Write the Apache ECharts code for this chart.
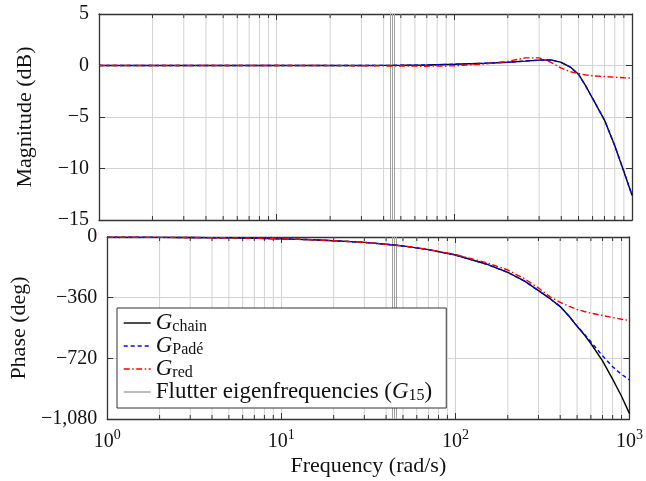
<!DOCTYPE html>
<html>
<head>
<meta charset="utf-8">
<script src="https://cdn.jsdelivr.net/npm/echarts@6/dist/echarts.min.js"></script>
<style>
  html, body { margin: 0; padding: 0; background: #fff; }
  #chart { width: 646px; height: 481px; }
</style>
</head>
<body>
<div id="chart"></div>
<script>
// Frequency samples (rad/s)
const freqs = [1, 2, 3, 5, 7, 10, 15, 20, 30, 40, 50, 70, 100, 150, 200, 250, 300, 350, 400, 450, 500, 550, 600, 700, 800, 900, 1000];

// Magnitude (dB)
const chainMag = [0, 0, 0, 0, 0, 0, 0, 0, 0, 0.01, 0.02, 0.05, 0.12, 0.22, 0.32, 0.42, 0.52, 0.55, 0.3, -0.15, -0.85, -2.0, -3.2, -5.3, -7.8, -10.3, -12.6];
const padeMag  = [0, 0, 0, 0, 0, 0, 0, 0, 0, 0.01, 0.02, 0.05, 0.12, 0.22, 0.32, 0.42, 0.52, 0.54, 0.28, -0.17, -0.87, -2.02, -3.2, -5.3, -7.8, -10.3, -12.6];
const redMag   = [0, 0, 0, 0, 0, 0, 0, -0.01, -0.02, -0.04, -0.05, -0.07, -0.03, 0.15, 0.4, 0.74, 0.74, 0.3, -0.25, -0.6, -0.8, -0.92, -1.0, -1.08, -1.14, -1.19, -1.23];

// Phase (deg)
const chainPhase = [-1, -2, -3, -5, -7, -11, -16, -22, -32, -43, -53, -75, -107, -160, -210, -262, -318, -366, -413, -470, -530, -580, -632, -735, -843, -945, -1048];
const padePhase  = [-1, -2, -3, -5, -7, -11, -16, -22, -32, -43, -53, -75, -107, -160, -210, -262, -318, -366, -413, -470, -528, -576, -622, -705, -770, -815, -848];
const redPhase   = [-1, -2, -3, -5, -7, -11, -16, -22, -32, -43, -53, -74, -104, -152, -196, -248, -303, -355, -388, -412, -430, -442, -452, -466, -478, -488, -496];

// Flutter eigenfrequencies of G15 (rad/s)
const flutterFreqs = [43.4, 44.5, 45.7];

// Axis ticks
const magTicks = { min: -15, max: 5, interval: 5 };
const phaseTicks = { min: -1080, max: 0, interval: 360 };
const minorFreqs = [2, 3, 4, 5, 6, 7, 8, 9, 20, 30, 40, 50, 60, 70, 80, 90, 200, 300, 400, 500, 600, 700, 800, 900];

const FONT = "'Liberation Serif', 'DejaVu Serif', serif";
const GRID_COLOR = '#d2d2d2';
const AXIS_COLOR = '#333333';

const pair = (xs, ys) => xs.map((x, i) => [x, ys[i]]);

function fmtY(v) {
  if (v === 0) return '0';
  const s = Math.abs(v).toLocaleString('en-US');
  return (v < 0 ? '\u2212' : '') + s;
}

function minorRender(yMin, yMax) {
  return function (params, api) {
    const f = api.value(0);
    const top = api.coord([f, yMax]);
    const bot = api.coord([f, yMin]);
    return {
      type: 'group',
      children: [
        { type: 'line', shape: { x1: top[0], y1: top[1], x2: bot[0], y2: bot[1] },
          style: { stroke: GRID_COLOR, lineWidth: 1 } },
        { type: 'line', shape: { x1: top[0], y1: top[1], x2: top[0], y2: top[1] + 4 },
          style: { stroke: AXIS_COLOR, lineWidth: 1 } },
        { type: 'line', shape: { x1: bot[0], y1: bot[1], x2: bot[0], y2: bot[1] - 4 },
          style: { stroke: AXIS_COLOR, lineWidth: 1 } }
      ]
    };
  };
}

function xAxisCfg(gridIndex, position, labels) {
  return {
    type: 'log', logBase: 10, gridIndex, position, min: 1, max: 1000,
    axisLine: { show: true, onZero: false, lineStyle: { color: AXIS_COLOR, width: 1.3 } },
    axisTick: { show: true, inside: true, length: 6, lineStyle: { color: AXIS_COLOR, width: 1 } },
    splitLine: { show: position === 'bottom', lineStyle: { color: GRID_COLOR, width: 1 } },
    minorTick: { show: false },
    axisLabel: labels ? {
      show: true, margin: 9, color: '#111',
      formatter: v => '{b|10}{p|' + Math.round(Math.log10(v)) + '}',
      rich: {
        b: { fontFamily: FONT, fontSize: 20, color: '#111', verticalAlign: 'bottom', lineHeight: 24 },
        p: { fontFamily: FONT, fontSize: 14, color: '#111', verticalAlign: 'top', lineHeight: 14 }
      }
    } : { show: false },
    name: labels ? 'Frequency (rad/s)' : '',
    nameLocation: 'middle', nameGap: 36,
    nameTextStyle: { fontFamily: FONT, fontSize: 22, color: '#111' }
  };
}

function yAxisCfg(gridIndex, position, ticks, name) {
  const left = position === 'left';
  return {
    type: 'value', gridIndex, position, min: ticks.min, max: ticks.max, interval: ticks.interval,
    axisLine: { show: true, onZero: false, lineStyle: { color: AXIS_COLOR, width: 1.3 } },
    axisTick: { show: true, inside: true, length: 6, lineStyle: { color: AXIS_COLOR, width: 1 } },
    splitLine: { show: left, lineStyle: { color: GRID_COLOR, width: 1 } },
    axisLabel: left ? { show: true, margin: 10, fontFamily: FONT, fontSize: 20, color: '#111', formatter: fmtY } : { show: false },
    name: left ? name : '',
    nameLocation: 'middle', nameGap: 63, nameRotate: 90,
    nameTextStyle: { fontFamily: FONT, fontSize: 22, color: '#111' }
  };
}

function curve(name, data, xi, yi, color, type, z) {
  return {
    type: 'line', name, data, xAxisIndex: xi, yAxisIndex: yi,
    symbol: 'none', showSymbol: false, smooth: false, z,
    lineStyle: { color, width: 1.4, type },
    itemStyle: { color },
    emphasis: { disabled: true }
  };
}

function flutterSeries(xi, yi) {
  return {
    type: 'line', name: 'flutter', data: [], xAxisIndex: xi, yAxisIndex: yi,
    symbol: 'none', z: 1,
    lineStyle: { color: '#a0a0a0', width: 1 },
    itemStyle: { color: '#a0a0a0' },
    markLine: {
      silent: true, symbol: 'none', label: { show: false }, z: 1,
      lineStyle: { color: '#a0a0a0', width: 1, type: 'solid' },
      emphasis: { disabled: true },
      data: flutterFreqs.map(f => ({ xAxis: f }))
    }
  };
}

function minorSeries(xi, yi, ticks) {
  return {
    type: 'custom', name: 'minor', xAxisIndex: xi, yAxisIndex: yi, z: 1, silent: true,
    data: minorFreqs.map(f => [f, ticks.min]),
    encode: { x: 0, y: 1 },
    renderItem: minorRender(ticks.min, ticks.max)
  };
}

const dashed = [4, 3];
const dashDot = [6, 2.5, 1.5, 2.5];

const chart = echarts.init(document.getElementById('chart'), null, { renderer: 'canvas' });
chart.setOption({
  animation: false,
  backgroundColor: '#fff',
  grid: [
    { left: 99, right: 14, top: 14, height: 206 },
    { left: 99, right: 14, top: 237, height: 182 }
  ],
  xAxis: [
    xAxisCfg(0, 'bottom', false),
    xAxisCfg(0, 'top', false),
    xAxisCfg(1, 'bottom', true),
    xAxisCfg(1, 'top', false)
  ],
  yAxis: [
    yAxisCfg(0, 'left', magTicks, 'Magnitude (dB)'),
    yAxisCfg(0, 'right', magTicks, ''),
    yAxisCfg(1, 'left', phaseTicks, 'Phase (deg)'),
    yAxisCfg(1, 'right', phaseTicks, '')
  ],
  legend: {
    z: 50,
    data: ['chain', 'pade', 'red', 'flutter'],
    orient: 'vertical', left: 117, top: 308,
    padding: [3, 14, 4, 6], itemGap: -1,
    itemWidth: 27, itemHeight: 14,
    backgroundColor: '#fff', borderColor: AXIS_COLOR, borderWidth: 1, borderRadius: 0,
    selectedMode: false,
    itemStyle: { opacity: 0, borderWidth: 0 },
    lineStyle: { width: 1.4 },
    formatter: n => ({
      chain: '{g|G}{s|chain}',
      pade: '{g|G}{s|Padé}',
      red: '{g|G}{s|red}',
      flutter: '{t|Flutter eigenfrequencies (}{g|G}{s|15}{t|)}'
    })[n],
    textStyle: {
      fontFamily: FONT, fontSize: 23, color: '#111',
      rich: {
        t: { fontFamily: FONT, fontSize: 23, color: '#111', verticalAlign: 'top', lineHeight: 24 },
        g: { fontFamily: FONT, fontSize: 23, fontStyle: 'italic', color: '#111', verticalAlign: 'top', lineHeight: 24 },
        s: { fontFamily: FONT, fontSize: 16, color: '#111', verticalAlign: 'bottom', lineHeight: 10 }
      }
    }
  },
  series: [
    minorSeries(0, 0, magTicks),
    minorSeries(2, 2, phaseTicks),
    flutterSeries(0, 0),
    flutterSeries(2, 2),
    curve('chain', pair(freqs, chainMag), 0, 0, '#000', 'solid', 3),
    curve('pade', pair(freqs, padeMag), 0, 0, '#0000ff', dashed, 4),
    curve('red', pair(freqs, redMag), 0, 0, '#ff0000', dashDot, 5),
    curve('chain', pair(freqs, chainPhase), 2, 2, '#000', 'solid', 3),
    curve('pade', pair(freqs, padePhase), 2, 2, '#0000ff', dashed, 4),
    curve('red', pair(freqs, redPhase), 2, 2, '#ff0000', dashDot, 5)
  ]
});
</script>
</body>
</html>
